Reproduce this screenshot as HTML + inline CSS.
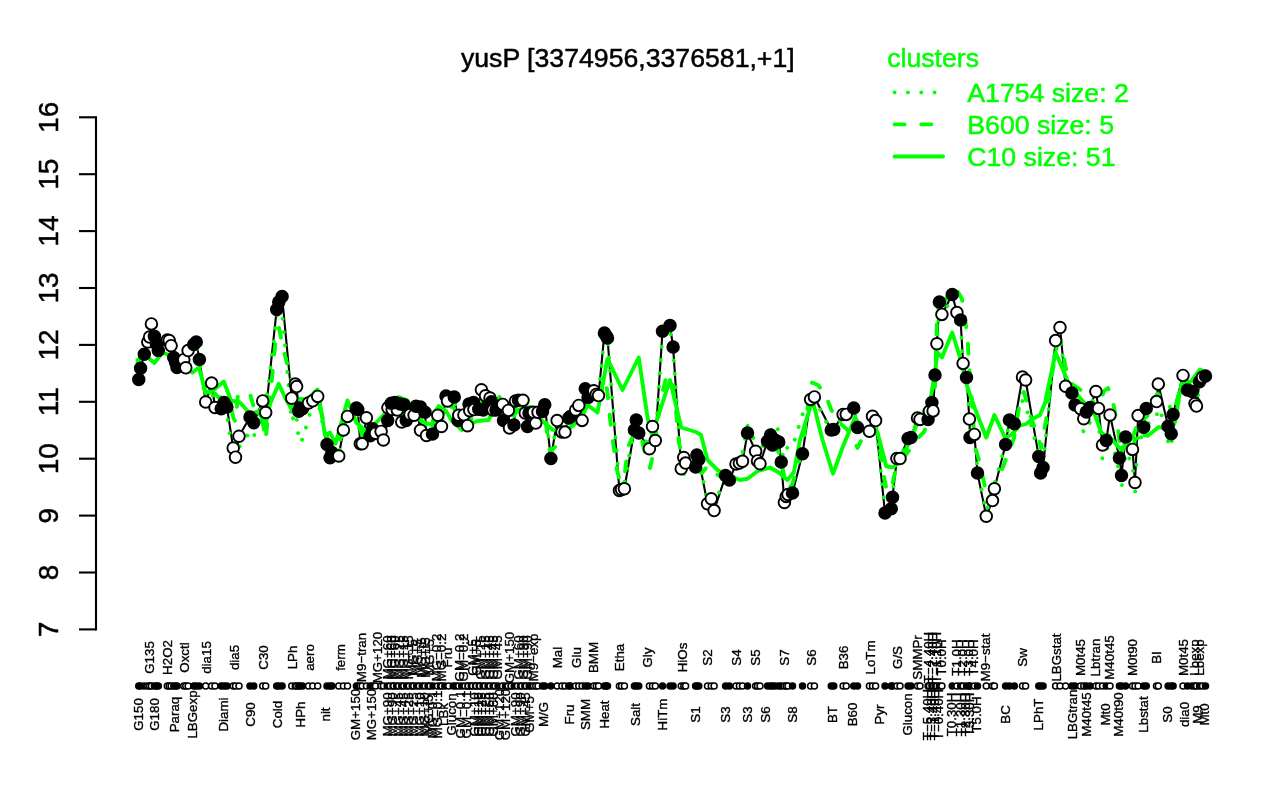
<!DOCTYPE html>
<html lang="en"><head><meta charset="utf-8"><title>yusP expression profile</title>
<style>html,body{margin:0;padding:0;background:#fff}svg{display:block}text{font-family:"Liberation Sans",Arial,Helvetica,sans-serif;fill:#000}.lab{font-size:13.33px;stroke:#000;stroke-width:0.35px}.big{font-size:26.67px;stroke:#000;stroke-width:0.5px}.big.g{fill:#00ff00;stroke:#00ff00}.p1{fill:#000;stroke:#000;stroke-width:1.9}.p0{fill:#fff;stroke:#000;stroke-width:1.9}.s1{fill:#000;stroke:#000;stroke-width:1.5}.s0{fill:#fff;stroke:#000;stroke-width:1.5}.gl{fill:none;stroke:#00ff00;stroke-width:3.9;stroke-linecap:round;stroke-linejoin:round}</style></head><body>
<svg width="1280" height="800" viewBox="0 0 1280 800">
<rect width="1280" height="800" fill="#fff"/>
<text class="big" x="627.8" y="67" text-anchor="middle">yusP [3374956,3376581,+1]</text>
<g stroke="#000" stroke-width="2.1" fill="none" stroke-linecap="butt">
<path d="M96 116.25 V630.45"/>
<path d="M79 629.4 H96"/>
<path d="M79 572.5 H96"/>
<path d="M79 515.6 H96"/>
<path d="M79 458.7 H96"/>
<path d="M79 401.8 H96"/>
<path d="M79 344.9 H96"/>
<path d="M79 288 H96"/>
<path d="M79 231.1 H96"/>
<path d="M79 174.2 H96"/>
<path d="M79 117.3 H96"/>
</g>
<text class="big" style="font-size:28px" text-anchor="middle" transform="translate(58 629.4) rotate(-90)">7</text>
<text class="big" style="font-size:28px" text-anchor="middle" transform="translate(58 572.5) rotate(-90)">8</text>
<text class="big" style="font-size:28px" text-anchor="middle" transform="translate(58 515.6) rotate(-90)">9</text>
<text class="big" style="font-size:28px" text-anchor="middle" transform="translate(58 458.7) rotate(-90)">10</text>
<text class="big" style="font-size:28px" text-anchor="middle" transform="translate(58 401.8) rotate(-90)">11</text>
<text class="big" style="font-size:28px" text-anchor="middle" transform="translate(58 344.9) rotate(-90)">12</text>
<text class="big" style="font-size:28px" text-anchor="middle" transform="translate(58 288) rotate(-90)">13</text>
<text class="big" style="font-size:28px" text-anchor="middle" transform="translate(58 231.1) rotate(-90)">14</text>
<text class="big" style="font-size:28px" text-anchor="middle" transform="translate(58 174.2) rotate(-90)">15</text>
<text class="big" style="font-size:28px" text-anchor="middle" transform="translate(58 117.3) rotate(-90)">16</text>
<text class="big g" x="887.2" y="67">clusters</text>
<path class="gl" d="M894.6 92.4 H943" stroke-dasharray="0.01 13.32"/>
<path class="gl" d="M894.6 124.4 H943" stroke-dasharray="10 16.66"/>
<path class="gl" d="M894.6 156.5 H943"/>
<text class="big g" x="967.3" y="101.7">A1754 size: 2</text>
<text class="big g" x="967.3" y="133.7">B600 size: 5</text>
<text class="big g" x="967.3" y="165.7">C10 size: 51</text>
<path d="M138.75 379.5 L140.6 368.3 L144.3 354.3 L147.8 342 L149.6 337 L151.4 323.9 L154.4 336.3 L156.5 344 L158.3 350.5 L167.3 340 L169.2 340.5 L171.1 345.7 L173.75 357.5 L175.5 362 L177 367.5 L183.75 359.7 L185.8 367.8 L188.1 350.6 L193.75 344.4 L196.25 341.9 L199.4 359.4 L205.7 402 L211.6 383.1 L215 407.5 L221.25 408.75 L224.1 402.5 L226.9 406.9 L233.2 448 L235.5 457.2 L239 436.25 L250 417 L253.75 422.8 L262.7 400.9 L265.7 412.5 L276.7 309.4 L278.75 302 L282.1 296.5 L291.7 398.2 L295.3 384 L296.6 386.6 L298.75 411.25 L300 408 L302.5 408.75 L308.5 403 L312.8 400.8 L317.7 396.4 L327 444.4 L330 457.8 L331.9 452.5 L338.75 456 L343.4 430 L347.5 416.4 L356.4 407.9 L357.8 409.5 L360.3 443.75 L362.2 443.75 L366.4 417.8 L370.2 435.8 L372.5 428.75 L375.5 433.25 L381.1 431.4 L383.4 440 L387.7 420.5 L387.9 407.75 L391.25 403.25 L392.2 409.5 L395 402.5 L397.3 410 L400.25 404 L401.75 422 L404 404.75 L406.25 420.5 L410 414.5 L414.1 415.25 L416 406.25 L420.5 430.25 L420.5 407 L425 412.25 L426.5 435.5 L432.5 434 L437.75 415.25 L441.5 426.5 L446 396.1 L447.5 401 L454.25 396.9 L458 420.5 L458.75 415.25 L463.9 414.9 L467.5 425.7 L469 404 L469.75 410.75 L473.5 402.5 L473.9 409.6 L478.75 409.25 L481.4 389.75 L483.25 410 L485.5 395.75 L490 398 L491.5 401.75 L493 410 L496 410 L502.75 404.4 L503.5 420.5 L508.4 410.4 L509.5 428 L514 425 L515.5 401 L518.5 400.25 L523 400.25 L525.25 413 L527.5 426.5 L529 413 L533.5 412.25 L535.75 423.1 L538 412.25 L542.5 411.5 L544.75 404.75 L550.9 458.5 L557.1 420.6 L561.9 431.9 L565 432.1 L568.75 418.1 L570.5 416.5 L575.6 410 L578.75 405.4 L582.1 420.4 L585.3 388.75 L588.1 397.5 L593.75 390.8 L596.25 394.4 L598.5 395.6 L604.4 333.1 L606 335.5 L607.5 338.1 L619.4 490.6 L621.5 489.5 L624.4 488.75 L634.4 430 L636.25 420 L638.75 433.1 L649.4 448.75 L652.5 426.5 L655.3 440.5 L662.5 331.25 L670 325.6 L673.1 346.9 L681.25 468.75 L683.75 457.5 L685.6 463.1 L695.6 466.9 L696.9 455 L698.75 459.4 L707.5 503.75 L711.25 498.75 L714.1 510.6 L725.6 475.6 L729.4 480 L736 464 L739.4 463.1 L742.5 461.25 L747.5 433.1 L755.6 451.25 L757.5 460.9 L760 463.75 L767.5 441.25 L770.6 435 L772.5 445 L775 440 L778.75 441.9 L781.25 461.9 L784.4 502.5 L786.25 496.4 L788 494.5 L792.5 493.1 L802.5 453.75 L810.6 399.4 L814.4 396.9 L831.25 430 L833.75 429.4 L843.1 414.4 L846.25 414.4 L853.75 408.1 L857.5 427.5 L869.4 431.25 L872.5 416.25 L875.6 420.6 L885 513.1 L891.25 508.75 L892.5 497.2 L896.9 458.5 L900 458.5 L908.1 438.4 L911 437.5 L917.5 418.1 L920 419.4 L928.1 419.4 L929.4 411.25 L931.9 402.5 L933.1 410.9 L935 375 L936.9 343.75 L939.4 301.9 L941.9 314.4 L952.25 294.4 L956.9 312.5 L960.6 320 L963.1 363.4 L966.5 377.5 L969.4 419.1 L970 437.5 L974.4 434.4 L977.5 473.1 L986.25 516.25 L992.5 500.6 L994.4 488.75 L1005.6 444.4 L1009.4 420 L1014.4 423.75 L1022.5 377 L1025.6 380 L1038.75 456.6 L1040.6 473.1 L1043.1 467.5 L1055.6 340.6 L1060 327.5 L1065.6 386.25 L1071.9 393.1 L1075 405 L1080.6 408.75 L1083.75 418.75 L1086.25 411.9 L1090 407.5 L1095.9 391.5 L1098.5 408.4 L1102.5 445 L1106.25 440.6 L1110 415 L1119.4 458.1 L1121.5 475.6 L1125.6 436.9 L1132.5 449.4 L1135 482.5 L1138.1 415.6 L1143.75 427.2 L1146.25 408.4 L1156.5 401.6 L1158.3 384.1 L1168.1 426.25 L1171.25 433.75 L1173.1 414.4 L1183 375.4 L1187.5 390 L1192 391.5 L1195 403.5 L1196.5 406.1 L1199.5 381.75 L1202.5 377.25 L1205.5 376.1" fill="none" stroke="#000" stroke-width="2.1" stroke-linejoin="round"/>
<path class="gl" d="M137.5 360 L145 355 L154.4 363 L162.5 352.5 L168.75 355 L173.75 363.75 L182.5 366.25 L192.5 372.5 L199 367.5 L205.5 392.5 L212.5 391 L223.75 381.5 L231 400.5 L240 402.5 L250 413.75 L257.5 411.5 L266 422.5 L270 404 L278.75 383.75 L285 397.5 L291.25 408.5 L297.5 398.75 L307.5 399.5 L317.5 389.5 L321.25 411.25 L325 435 L330 432.5 L335.5 443.75 L347.5 400.5 L356.25 422.5 L366.25 431.25 L376.25 422.5 L385 413.5 L398.75 397 L407.5 400.6 L414 412 L421 421 L432 425 L436 410 L438.75 406 L446 411 L452 421 L462 430 L470 424 L477.5 421 L488.75 420 L495 405 L499.4 397 L506 408 L513.75 416 L517.5 410 L524 408 L531 407 L538 417 L543.5 422 L552.5 429.5 L562 432 L572 426.5 L582.5 416 L587.5 405 L597.5 412.5 L607.5 358.75 L622.5 390 L638.75 357.5 L647.5 417.5 L652 435 L670 380 L681.25 427.5 L696 432 L701 435 L707.5 460 L717.5 470 L727.5 475 L740 480 L747.5 478.75 L757.5 471.25 L770 467.5 L778.75 472.5 L787.5 480 L793.75 472.5 L800 440 L812.5 400 L822.5 440 L833 473.75 L842.5 447.5 L855 417.5 L865 432.5 L871.25 435 L877.5 432.5 L886.25 466.25 L892.5 467.5 L900 462.5 L910 440 L920 417.5 L930 402.5 L935 372 L937.5 352.5 L941.9 357.5 L952.25 332.5 L960 357.5 L967.5 387.5 L975 408.75 L986.25 437.5 L994.4 415 L1005 437.5 L1011.25 435 L1019 426 L1026 424 L1032.5 419 L1040 415 L1045 403 L1055.6 352.5 L1066.25 377.5 L1070 388 L1077.5 395 L1095 415 L1101.25 432.5 L1112.5 440 L1120 448.75 L1125 446.25 L1132.5 437.5 L1136.25 428 L1147.5 436 L1158.75 427 L1162 428 L1168 430 L1172 428 L1175 422 L1178.75 398.75 L1181.5 384 L1191.25 381.25 L1200 369.4 L1205 372"/>
<path class="gl" d="M137.5 362 L143 356 L149 346 L155 352 L160 353 L168 351 L175 362 L183 364 L190 358 L196 356 L200 366 L206 396 L212 390 L218 397 L225 398 L230 404 L233.5 418 L235.5 422 L238 394 L250 394 L254 408 L259 416 L263 424 L265.5 440 L270 400 L275 346 L279 328 L284 352 L292 382 L297 392 L305 400 L315 393 L322 415 L328 440 L333 448 L340 440 L347 412 L356 412 L362 435 L368 430 L375 430 L383 428 L390 412 L398 402 L406 408 L414 414 L421 420 L430 428 L437 414 L446 404 L454 408 L460 422 L468 424 L476 412 L484 406 L492 404 L500 402 L508 414 L516 412 L524 406 L532 412 L540 416 L545 418 L550 452 L556 446 L562 440 L570 428 L580 415 L590 398 L598 400 L603 386 L606 381 L608.5 402 L611 428 L613.5 445 L617 470 L620 482 L625 472 L628 447 L632 438 L637 432 L642 440 L646 458 L650 468 L654 450 L658 420 L662.5 392 L666 378 L671 376 L675 400 L679 443 L682 455 L684 475 L690 473 L697 470 L702 473 L707.5 466 L712 472 L716 474 L720 476 L728 479 L737 470 L747 452 L755 455 L762 462 L770 448 L778 450 L783 470 L787 490 L792 485 L797 470 L803 445 L808 405 L812 382.5 L818 385 L825 394 L831 409 L835 418 L842 425 L850 432 L857.5 448 L862.5 438 L870 432 L876 428 L880 450 L884 477 L887 492 L892 485 L897 465 L903 458 L908 452 L912 446 L918 438 L924 432 L929 420 L933 405 L935 385 L937 318 L938.75 294 L943 305 L948 295 L953 287 L957 290 L962 299 L967.5 336 L969 365 L971 388 L975 447 L979 460 L985 487 L988 497 L993 490 L1000 475 L1007.5 455 L1014 438 L1021 395 L1024 392 L1030 415 L1037.5 435 L1041 448 L1046 420 L1051 380 L1057.5 342.5 L1062.5 345 L1065 365 L1070 382.5 L1085 393 L1092 400 L1098 410 L1104 391 L1108 388 L1113 402 L1118 428 L1121 455 L1126 440 L1133 450 L1137 430 L1145 418 L1152 412 L1157 394 L1162 396 L1170 407 L1173 418 L1177 400 L1183 380 L1190 385 L1196 395 L1202 378 L1205 374" stroke-dasharray="10 16.66"/>
<path class="gl" d="M138.75 378.28 L140.6 367.68 L144.3 354.37 L147.8 342.92 L149.6 338.31 L151.4 326.09 L154.4 337.9 L156.5 344.98 L158.3 350.95 L167.3 340.87 L169.2 341.42 L171.1 346.5 L173.75 357.88 L175.5 362.13 L177 367.33 L183.75 360.14 L185.8 367.83 L188.1 351.75 L193.75 346.03 L196.25 343.56 L199.4 359.98 L205.7 403.39 L211.6 387.59 L215 411.56 L221.25 414.57 L224.1 409.61 L226.9 415.15 L233.2 456.49 L235.5 465.89 L239 447.34 L250 431.81 L253.75 437.19 L262.7 400.21 L265.7 405.58 L276.7 316.76 L278.75 312.27 L282.1 312.06 L291.7 421.62 L295.3 412.8 L296.6 416.87 L298.75 441.09 L300 438.46 L302.5 440.01 L308.5 418.23 L312.8 405.18 L317.7 399.47 L327 444.61 L330 456.28 L331.9 451.53 L338.75 454.56 L343.4 429.12 L347.5 415.45 L356.4 408.78 L357.8 410.36 L360.3 442.69 L362.2 442.79 L366.4 418.6 L370.2 435.32 L372.5 428.57 L375.5 432.64 L381.1 430.57 L383.4 438.51 L387.7 419.89 L387.9 407.89 L391.25 403.42 L392.2 409.22 L395 402.44 L397.3 409.32 L400.25 403.62 L401.75 420.57 L404 404.41 L406.25 419.28 L410 413.93 L414.1 415.06 L416 406.75 L420.5 429.66 L420.5 407.8 L425 412.86 L426.5 434.75 L432.5 433.35 L437.75 414.78 L441.5 425.38 L446 396.99 L447.5 401.75 L454.25 398.47 L458 420.85 L458.75 415.96 L463.9 415.72 L467.5 425.71 L469 405.25 L469.75 411.56 L473.5 403.71 L473.9 410.37 L478.75 409.95 L481.4 391.6 L483.25 410.63 L485.5 397.22 L490 399.14 L491.5 402.45 L493 409.99 L496 409.59 L502.75 404.29 L503.5 419.5 L508.4 410.4 L509.5 427.02 L514 424.44 L515.5 401.73 L518.5 400.82 L523 400.73 L525.25 412.69 L527.5 425.36 L529 412.66 L533.5 412.15 L535.75 422.54 L538 412.54 L542.5 412.08 L544.75 405.85 L550.9 456.68 L557.1 421.21 L561.9 431.9 L565 432 L568.75 418.71 L570.5 417.15 L575.6 410.77 L578.75 406.26 L582.1 420.16 L585.3 390.02 L588.1 397.98 L593.75 391.93 L596.25 395.43 L598.5 396.29 L604.4 335.64 L606 337.38 L607.5 339.34 L619.4 484.18 L621.5 483.4 L624.4 482.6 L634.4 426.17 L636.25 416.55 L638.75 428.56 L649.4 447.32 L652.5 426.92 L655.3 439.56 L662.5 335.55 L670 328.86 L673.1 349.67 L681.25 466.27 L683.75 455.75 L685.6 461.04 L695.6 464.8 L696.9 453.65 L698.75 457.85 L707.5 501.12 L711.25 496.65 L714.1 507.96 L725.6 472.01 L729.4 473.87 L736 454.86 L739.4 454.1 L742.5 452.35 L747.5 425.84 L755.6 442.54 L757.5 451.52 L760 454.15 L767.5 432.09 L770.6 425.22 L772.5 434.09 L775 428.7 L778.75 429.44 L781.25 446.06 L784.4 464.23 L786.25 448.44 L788 447.26 L792.5 447.2 L802.5 414.44 L810.6 394.2 L814.4 397.54 L831.25 432.29 L833.75 431.94 L843.1 416.3 L846.25 415.85 L853.75 408.84 L857.5 427.12 L869.4 431.43 L872.5 417.35 L875.6 421.36 L885 510 L891.25 506.26 L892.5 495.42 L896.9 458.86 L900 458.74 L908.1 438.75 L911 437.51 L917.5 418.4 L920 419.29 L928.1 418.56 L929.4 410.78 L931.9 401.8 L933.1 409.26 L935 374.82 L936.9 344.56 L939.4 305.07 L941.9 316.99 L952.25 296.69 L956.9 314.6 L960.6 322.39 L963.1 363.79 L966.5 377.86 L969.4 417.53 L970 434.93 L974.4 432.76 L977.5 469.62 L986.25 511.52 L992.5 495.78 L994.4 484.32 L1005.6 443.97 L1009.4 420.94 L1014.4 424.21 L1022.5 400.71 L1025.6 404.79 L1038.75 454.14 L1040.6 469.53 L1043.1 463.9 L1055.6 341.31 L1060 329.62 L1065.6 385.63 L1071.9 392.9 L1075 404.26 L1080.6 420.14 L1083.75 432.75 L1086.25 426.49 L1090 422.61 L1095.9 408.06 L1098.5 424.38 L1102.5 459.3 L1106.25 455.31 L1110 431.4 L1119.4 472.5 L1121.5 488.94 L1125.6 452.42 L1132.5 463.69 L1135 494.42 L1138.1 431.42 L1143.75 442.57 L1146.25 425 L1156.5 418.23 L1158.3 401.7 L1168.1 441.47 L1171.25 447.47 L1173.1 427.7 L1183 380.89 L1187.5 394.13 L1192 395.01 L1195 405.77 L1196.5 407.96 L1199.5 384.55 L1202.5 380.08 L1205.5 378.85" stroke-dasharray="0.01 13.32"/>
<circle class="p1" cx="138.75" cy="379.5" r="5.8"/>
<circle class="p1" cx="140.6" cy="368.3" r="5.8"/>
<circle class="p1" cx="144.3" cy="354.3" r="5.8"/>
<circle class="p0" cx="147.8" cy="342" r="5.8"/>
<circle class="p0" cx="149.6" cy="337" r="5.8"/>
<circle class="p0" cx="151.4" cy="323.9" r="5.8"/>
<circle class="p1" cx="154.4" cy="336.3" r="5.8"/>
<circle class="p1" cx="156.5" cy="344" r="5.8"/>
<circle class="p1" cx="158.3" cy="350.5" r="5.8"/>
<circle class="p0" cx="167.3" cy="340" r="5.8"/>
<circle class="p0" cx="169.2" cy="340.5" r="5.8"/>
<circle class="p0" cx="171.1" cy="345.7" r="5.8"/>
<circle class="p1" cx="173.75" cy="357.5" r="5.8"/>
<circle class="p1" cx="175.5" cy="362" r="5.8"/>
<circle class="p1" cx="177" cy="367.5" r="5.8"/>
<circle class="p0" cx="183.75" cy="359.7" r="5.8"/>
<circle class="p0" cx="185.8" cy="367.8" r="5.8"/>
<circle class="p0" cx="188.1" cy="350.6" r="5.8"/>
<circle class="p1" cx="193.75" cy="344.4" r="5.8"/>
<circle class="p1" cx="196.25" cy="341.9" r="5.8"/>
<circle class="p1" cx="199.4" cy="359.4" r="5.8"/>
<circle class="p0" cx="205.7" cy="402" r="5.8"/>
<circle class="p0" cx="211.6" cy="383.1" r="5.8"/>
<circle class="p0" cx="215" cy="407.5" r="5.8"/>
<circle class="p1" cx="221.25" cy="408.75" r="5.8"/>
<circle class="p1" cx="224.1" cy="402.5" r="5.8"/>
<circle class="p1" cx="226.9" cy="406.9" r="5.8"/>
<circle class="p0" cx="233.2" cy="448" r="5.8"/>
<circle class="p0" cx="235.5" cy="457.2" r="5.8"/>
<circle class="p0" cx="239" cy="436.25" r="5.8"/>
<circle class="p1" cx="250" cy="417" r="5.8"/>
<circle class="p1" cx="253.75" cy="422.8" r="5.8"/>
<circle class="p0" cx="262.7" cy="400.9" r="5.8"/>
<circle class="p0" cx="265.7" cy="412.5" r="5.8"/>
<circle class="p1" cx="276.7" cy="309.4" r="5.8"/>
<circle class="p1" cx="278.75" cy="302" r="5.8"/>
<circle class="p1" cx="282.1" cy="296.5" r="5.8"/>
<circle class="p0" cx="291.7" cy="398.2" r="5.8"/>
<circle class="p0" cx="295.3" cy="384" r="5.8"/>
<circle class="p0" cx="296.6" cy="386.6" r="5.8"/>
<circle class="p1" cx="298.75" cy="411.25" r="5.8"/>
<circle class="p1" cx="300" cy="408" r="5.8"/>
<circle class="p1" cx="302.5" cy="408.75" r="5.8"/>
<circle class="p0" cx="308.5" cy="403" r="5.8"/>
<circle class="p0" cx="312.8" cy="400.8" r="5.8"/>
<circle class="p0" cx="317.7" cy="396.4" r="5.8"/>
<circle class="p1" cx="327" cy="444.4" r="5.8"/>
<circle class="p1" cx="330" cy="457.8" r="5.8"/>
<circle class="p1" cx="331.9" cy="452.5" r="5.8"/>
<circle class="p0" cx="338.75" cy="456" r="5.8"/>
<circle class="p0" cx="343.4" cy="430" r="5.8"/>
<circle class="p0" cx="347.5" cy="416.4" r="5.8"/>
<circle class="p1" cx="356.4" cy="407.9" r="5.8"/>
<circle class="p1" cx="357.8" cy="409.5" r="5.8"/>
<circle class="p0" cx="360.3" cy="443.75" r="5.8"/>
<circle class="p0" cx="362.2" cy="443.75" r="5.8"/>
<circle class="p0" cx="366.4" cy="417.8" r="5.8"/>
<circle class="p1" cx="370.2" cy="435.8" r="5.8"/>
<circle class="p1" cx="372.5" cy="428.75" r="5.8"/>
<circle class="p0" cx="375.5" cy="433.25" r="5.8"/>
<circle class="p0" cx="381.1" cy="431.4" r="5.8"/>
<circle class="p0" cx="383.4" cy="440" r="5.8"/>
<circle class="p1" cx="387.7" cy="420.5" r="5.8"/>
<circle class="p0" cx="387.9" cy="407.75" r="5.8"/>
<circle class="p0" cx="392.2" cy="409.5" r="5.8"/>
<circle class="p0" cx="397.3" cy="410" r="5.8"/>
<circle class="p1" cx="391.25" cy="403.25" r="5.8"/>
<circle class="p1" cx="395" cy="402.5" r="5.8"/>
<circle class="p1" cx="400.25" cy="404" r="5.8"/>
<circle class="p0" cx="401.75" cy="422" r="5.8"/>
<circle class="p1" cx="404" cy="404.75" r="5.8"/>
<circle class="p1" cx="406.25" cy="420.5" r="5.8"/>
<circle class="p0" cx="410" cy="414.5" r="5.8"/>
<circle class="p0" cx="414.1" cy="415.25" r="5.8"/>
<circle class="p1" cx="416" cy="406.25" r="5.8"/>
<circle class="p0" cx="420.5" cy="430.25" r="5.8"/>
<circle class="p1" cx="420.5" cy="407" r="5.8"/>
<circle class="p1" cx="425" cy="412.25" r="5.8"/>
<circle class="p0" cx="426.5" cy="435.5" r="5.8"/>
<circle class="p1" cx="432.5" cy="434" r="5.8"/>
<circle class="p0" cx="437.75" cy="415.25" r="5.8"/>
<circle class="p0" cx="441.5" cy="426.5" r="5.8"/>
<circle class="p1" cx="446" cy="396.1" r="5.8"/>
<circle class="p0" cx="447.5" cy="401" r="5.8"/>
<circle class="p1" cx="454.25" cy="396.9" r="5.8"/>
<circle class="p1" cx="458" cy="420.5" r="5.8"/>
<circle class="p0" cx="458.75" cy="415.25" r="5.8"/>
<circle class="p0" cx="463.9" cy="414.9" r="5.8"/>
<circle class="p0" cx="467.5" cy="425.7" r="5.8"/>
<circle class="p1" cx="469" cy="404" r="5.8"/>
<circle class="p0" cx="469.75" cy="410.75" r="5.8"/>
<circle class="p1" cx="473.5" cy="402.5" r="5.8"/>
<circle class="p0" cx="473.9" cy="409.6" r="5.8"/>
<circle class="p1" cx="478.75" cy="409.25" r="5.8"/>
<circle class="p0" cx="481.4" cy="389.75" r="5.8"/>
<circle class="p1" cx="483.25" cy="410" r="5.8"/>
<circle class="p0" cx="485.5" cy="395.75" r="5.8"/>
<circle class="p0" cx="490" cy="398" r="5.8"/>
<circle class="p1" cx="491.5" cy="401.75" r="5.8"/>
<circle class="p0" cx="493" cy="410" r="5.8"/>
<circle class="p1" cx="496" cy="410" r="5.8"/>
<circle class="p0" cx="502.75" cy="404.4" r="5.8"/>
<circle class="p1" cx="503.5" cy="420.5" r="5.8"/>
<circle class="p0" cx="508.4" cy="410.4" r="5.8"/>
<circle class="p0" cx="509.5" cy="428" r="5.8"/>
<circle class="p1" cx="514" cy="425" r="5.8"/>
<circle class="p0" cx="515.5" cy="401" r="5.8"/>
<circle class="p1" cx="518.5" cy="400.25" r="5.8"/>
<circle class="p0" cx="523" cy="400.25" r="5.8"/>
<circle class="p0" cx="525.25" cy="413" r="5.8"/>
<circle class="p1" cx="527.5" cy="426.5" r="5.8"/>
<circle class="p1" cx="529" cy="413" r="5.8"/>
<circle class="p0" cx="533.5" cy="412.25" r="5.8"/>
<circle class="p0" cx="535.75" cy="423.1" r="5.8"/>
<circle class="p0" cx="538" cy="412.25" r="5.8"/>
<circle class="p1" cx="542.5" cy="411.5" r="5.8"/>
<circle class="p1" cx="544.75" cy="404.75" r="5.8"/>
<circle class="p1" cx="550.9" cy="458.5" r="5.8"/>
<circle class="p0" cx="557.1" cy="420.6" r="5.8"/>
<circle class="p0" cx="561.9" cy="431.9" r="5.8"/>
<circle class="p0" cx="565" cy="432.1" r="5.8"/>
<circle class="p1" cx="568.75" cy="418.1" r="5.8"/>
<circle class="p1" cx="570.5" cy="416.5" r="5.8"/>
<circle class="p0" cx="575.6" cy="410" r="5.8"/>
<circle class="p0" cx="578.75" cy="405.4" r="5.8"/>
<circle class="p0" cx="582.1" cy="420.4" r="5.8"/>
<circle class="p1" cx="585.3" cy="388.75" r="5.8"/>
<circle class="p1" cx="588.1" cy="397.5" r="5.8"/>
<circle class="p0" cx="593.75" cy="390.8" r="5.8"/>
<circle class="p0" cx="596.25" cy="394.4" r="5.8"/>
<circle class="p0" cx="598.5" cy="395.6" r="5.8"/>
<circle class="p1" cx="604.4" cy="333.1" r="5.8"/>
<circle class="p1" cx="606" cy="335.5" r="5.8"/>
<circle class="p1" cx="607.5" cy="338.1" r="5.8"/>
<circle class="p0" cx="619.4" cy="490.6" r="5.8"/>
<circle class="p0" cx="621.5" cy="489.5" r="5.8"/>
<circle class="p0" cx="624.4" cy="488.75" r="5.8"/>
<circle class="p1" cx="634.4" cy="430" r="5.8"/>
<circle class="p1" cx="636.25" cy="420" r="5.8"/>
<circle class="p1" cx="638.75" cy="433.1" r="5.8"/>
<circle class="p0" cx="649.4" cy="448.75" r="5.8"/>
<circle class="p0" cx="652.5" cy="426.5" r="5.8"/>
<circle class="p0" cx="655.3" cy="440.5" r="5.8"/>
<circle class="p1" cx="662.5" cy="331.25" r="5.8"/>
<circle class="p1" cx="670" cy="325.6" r="5.8"/>
<circle class="p1" cx="673.1" cy="346.9" r="5.8"/>
<circle class="p0" cx="681.25" cy="468.75" r="5.8"/>
<circle class="p0" cx="683.75" cy="457.5" r="5.8"/>
<circle class="p0" cx="685.6" cy="463.1" r="5.8"/>
<circle class="p1" cx="695.6" cy="466.9" r="5.8"/>
<circle class="p1" cx="696.9" cy="455" r="5.8"/>
<circle class="p1" cx="698.75" cy="459.4" r="5.8"/>
<circle class="p0" cx="707.5" cy="503.75" r="5.8"/>
<circle class="p0" cx="711.25" cy="498.75" r="5.8"/>
<circle class="p0" cx="714.1" cy="510.6" r="5.8"/>
<circle class="p1" cx="725.6" cy="475.6" r="5.8"/>
<circle class="p1" cx="729.4" cy="480" r="5.8"/>
<circle class="p0" cx="736" cy="464" r="5.8"/>
<circle class="p0" cx="739.4" cy="463.1" r="5.8"/>
<circle class="p0" cx="742.5" cy="461.25" r="5.8"/>
<circle class="p1" cx="747.5" cy="433.1" r="5.8"/>
<circle class="p0" cx="755.6" cy="451.25" r="5.8"/>
<circle class="p0" cx="757.5" cy="460.9" r="5.8"/>
<circle class="p0" cx="760" cy="463.75" r="5.8"/>
<circle class="p1" cx="767.5" cy="441.25" r="5.8"/>
<circle class="p1" cx="770.6" cy="435" r="5.8"/>
<circle class="p1" cx="772.5" cy="445" r="5.8"/>
<circle class="p1" cx="775" cy="440" r="5.8"/>
<circle class="p1" cx="778.75" cy="441.9" r="5.8"/>
<circle class="p1" cx="781.25" cy="461.9" r="5.8"/>
<circle class="p0" cx="784.4" cy="502.5" r="5.8"/>
<circle class="p0" cx="786.25" cy="496.4" r="5.8"/>
<circle class="p0" cx="788" cy="494.5" r="5.8"/>
<circle class="p1" cx="792.5" cy="493.1" r="5.8"/>
<circle class="p1" cx="802.5" cy="453.75" r="5.8"/>
<circle class="p0" cx="810.6" cy="399.4" r="5.8"/>
<circle class="p0" cx="814.4" cy="396.9" r="5.8"/>
<circle class="p1" cx="831.25" cy="430" r="5.8"/>
<circle class="p1" cx="833.75" cy="429.4" r="5.8"/>
<circle class="p0" cx="843.1" cy="414.4" r="5.8"/>
<circle class="p0" cx="846.25" cy="414.4" r="5.8"/>
<circle class="p1" cx="853.75" cy="408.1" r="5.8"/>
<circle class="p1" cx="857.5" cy="427.5" r="5.8"/>
<circle class="p0" cx="869.4" cy="431.25" r="5.8"/>
<circle class="p0" cx="872.5" cy="416.25" r="5.8"/>
<circle class="p0" cx="875.6" cy="420.6" r="5.8"/>
<circle class="p1" cx="885" cy="513.1" r="5.8"/>
<circle class="p1" cx="891.25" cy="508.75" r="5.8"/>
<circle class="p1" cx="892.5" cy="497.2" r="5.8"/>
<circle class="p0" cx="896.9" cy="458.5" r="5.8"/>
<circle class="p0" cx="900" cy="458.5" r="5.8"/>
<circle class="p1" cx="908.1" cy="438.4" r="5.8"/>
<circle class="p1" cx="911" cy="437.5" r="5.8"/>
<circle class="p0" cx="917.5" cy="418.1" r="5.8"/>
<circle class="p0" cx="920" cy="419.4" r="5.8"/>
<circle class="p1" cx="928.1" cy="419.4" r="5.8"/>
<circle class="p0" cx="929.4" cy="411.25" r="5.8"/>
<circle class="p1" cx="931.9" cy="402.5" r="5.8"/>
<circle class="p0" cx="933.1" cy="410.9" r="5.8"/>
<circle class="p1" cx="935" cy="375" r="5.8"/>
<circle class="p0" cx="936.9" cy="343.75" r="5.8"/>
<circle class="p1" cx="939.4" cy="301.9" r="5.8"/>
<circle class="p0" cx="941.9" cy="314.4" r="5.8"/>
<circle class="p1" cx="952.25" cy="294.4" r="5.8"/>
<circle class="p0" cx="956.9" cy="312.5" r="5.8"/>
<circle class="p1" cx="960.6" cy="320" r="5.8"/>
<circle class="p0" cx="963.1" cy="363.4" r="5.8"/>
<circle class="p1" cx="966.5" cy="377.5" r="5.8"/>
<circle class="p0" cx="969.4" cy="419.1" r="5.8"/>
<circle class="p1" cx="970" cy="437.5" r="5.8"/>
<circle class="p0" cx="974.4" cy="434.4" r="5.8"/>
<circle class="p1" cx="977.5" cy="473.1" r="5.8"/>
<circle class="p0" cx="986.25" cy="516.25" r="5.8"/>
<circle class="p0" cx="992.5" cy="500.6" r="5.8"/>
<circle class="p0" cx="994.4" cy="488.75" r="5.8"/>
<circle class="p1" cx="1005.6" cy="444.4" r="5.8"/>
<circle class="p1" cx="1009.4" cy="420" r="5.8"/>
<circle class="p1" cx="1014.4" cy="423.75" r="5.8"/>
<circle class="p0" cx="1022.5" cy="377" r="5.8"/>
<circle class="p0" cx="1025.6" cy="380" r="5.8"/>
<circle class="p1" cx="1038.75" cy="456.6" r="5.8"/>
<circle class="p1" cx="1040.6" cy="473.1" r="5.8"/>
<circle class="p1" cx="1043.1" cy="467.5" r="5.8"/>
<circle class="p0" cx="1055.6" cy="340.6" r="5.8"/>
<circle class="p0" cx="1060" cy="327.5" r="5.8"/>
<circle class="p0" cx="1065.6" cy="386.25" r="5.8"/>
<circle class="p1" cx="1071.9" cy="393.1" r="5.8"/>
<circle class="p1" cx="1075" cy="405" r="5.8"/>
<circle class="p0" cx="1080.6" cy="408.75" r="5.8"/>
<circle class="p0" cx="1083.75" cy="418.75" r="5.8"/>
<circle class="p1" cx="1086.25" cy="411.9" r="5.8"/>
<circle class="p1" cx="1090" cy="407.5" r="5.8"/>
<circle class="p0" cx="1095.9" cy="391.5" r="5.8"/>
<circle class="p0" cx="1098.5" cy="408.4" r="5.8"/>
<circle class="p0" cx="1102.5" cy="445" r="5.8"/>
<circle class="p1" cx="1106.25" cy="440.6" r="5.8"/>
<circle class="p0" cx="1110" cy="415" r="5.8"/>
<circle class="p1" cx="1119.4" cy="458.1" r="5.8"/>
<circle class="p1" cx="1121.5" cy="475.6" r="5.8"/>
<circle class="p1" cx="1125.6" cy="436.9" r="5.8"/>
<circle class="p0" cx="1132.5" cy="449.4" r="5.8"/>
<circle class="p0" cx="1135" cy="482.5" r="5.8"/>
<circle class="p0" cx="1138.1" cy="415.6" r="5.8"/>
<circle class="p1" cx="1143.75" cy="427.2" r="5.8"/>
<circle class="p1" cx="1146.25" cy="408.4" r="5.8"/>
<circle class="p0" cx="1156.5" cy="401.6" r="5.8"/>
<circle class="p0" cx="1158.3" cy="384.1" r="5.8"/>
<circle class="p1" cx="1168.1" cy="426.25" r="5.8"/>
<circle class="p1" cx="1171.25" cy="433.75" r="5.8"/>
<circle class="p1" cx="1173.1" cy="414.4" r="5.8"/>
<circle class="p0" cx="1183" cy="375.4" r="5.8"/>
<circle class="p1" cx="1187.5" cy="390" r="5.8"/>
<circle class="p1" cx="1192" cy="391.5" r="5.8"/>
<circle class="p0" cx="1195" cy="403.5" r="5.8"/>
<circle class="p0" cx="1196.5" cy="406.1" r="5.8"/>
<circle class="p1" cx="1199.5" cy="381.75" r="5.8"/>
<circle class="p0" cx="1202.5" cy="377.25" r="5.8"/>
<circle class="p1" cx="1205.5" cy="376.1" r="5.8"/>
<circle class="s1" cx="138.75" cy="686.1" r="3.0"/>
<circle class="s1" cx="140.6" cy="686.1" r="3.0"/>
<circle class="s1" cx="144.3" cy="686.1" r="3.0"/>
<circle class="s0" cx="147.8" cy="686.1" r="3.0"/>
<circle class="s0" cx="149.6" cy="686.1" r="3.0"/>
<circle class="s0" cx="151.4" cy="686.1" r="3.0"/>
<circle class="s1" cx="154.4" cy="686.1" r="3.0"/>
<circle class="s1" cx="156.5" cy="686.1" r="3.0"/>
<circle class="s1" cx="158.3" cy="686.1" r="3.0"/>
<circle class="s0" cx="167.3" cy="686.1" r="3.0"/>
<circle class="s0" cx="169.2" cy="686.1" r="3.0"/>
<circle class="s0" cx="171.1" cy="686.1" r="3.0"/>
<circle class="s1" cx="173.75" cy="686.1" r="3.0"/>
<circle class="s1" cx="175.5" cy="686.1" r="3.0"/>
<circle class="s1" cx="177" cy="686.1" r="3.0"/>
<circle class="s0" cx="183.75" cy="686.1" r="3.0"/>
<circle class="s0" cx="185.8" cy="686.1" r="3.0"/>
<circle class="s0" cx="188.1" cy="686.1" r="3.0"/>
<circle class="s1" cx="193.75" cy="686.1" r="3.0"/>
<circle class="s1" cx="196.25" cy="686.1" r="3.0"/>
<circle class="s1" cx="199.4" cy="686.1" r="3.0"/>
<circle class="s0" cx="205.7" cy="686.1" r="3.0"/>
<circle class="s0" cx="211.6" cy="686.1" r="3.0"/>
<circle class="s0" cx="215" cy="686.1" r="3.0"/>
<circle class="s1" cx="221.25" cy="686.1" r="3.0"/>
<circle class="s1" cx="224.1" cy="686.1" r="3.0"/>
<circle class="s1" cx="226.9" cy="686.1" r="3.0"/>
<circle class="s0" cx="233.2" cy="686.1" r="3.0"/>
<circle class="s0" cx="235.5" cy="686.1" r="3.0"/>
<circle class="s0" cx="239" cy="686.1" r="3.0"/>
<circle class="s1" cx="250" cy="686.1" r="3.0"/>
<circle class="s1" cx="253.75" cy="686.1" r="3.0"/>
<circle class="s0" cx="262.7" cy="686.1" r="3.0"/>
<circle class="s0" cx="265.7" cy="686.1" r="3.0"/>
<circle class="s1" cx="276.7" cy="686.1" r="3.0"/>
<circle class="s1" cx="278.75" cy="686.1" r="3.0"/>
<circle class="s1" cx="282.1" cy="686.1" r="3.0"/>
<circle class="s0" cx="291.7" cy="686.1" r="3.0"/>
<circle class="s0" cx="295.3" cy="686.1" r="3.0"/>
<circle class="s0" cx="296.6" cy="686.1" r="3.0"/>
<circle class="s1" cx="298.75" cy="686.1" r="3.0"/>
<circle class="s1" cx="300" cy="686.1" r="3.0"/>
<circle class="s1" cx="302.5" cy="686.1" r="3.0"/>
<circle class="s0" cx="308.5" cy="686.1" r="3.0"/>
<circle class="s0" cx="312.8" cy="686.1" r="3.0"/>
<circle class="s0" cx="317.7" cy="686.1" r="3.0"/>
<circle class="s1" cx="327" cy="686.1" r="3.0"/>
<circle class="s1" cx="330" cy="686.1" r="3.0"/>
<circle class="s1" cx="331.9" cy="686.1" r="3.0"/>
<circle class="s0" cx="338.75" cy="686.1" r="3.0"/>
<circle class="s0" cx="343.4" cy="686.1" r="3.0"/>
<circle class="s0" cx="347.5" cy="686.1" r="3.0"/>
<circle class="s1" cx="356.4" cy="686.1" r="3.0"/>
<circle class="s1" cx="357.8" cy="686.1" r="3.0"/>
<circle class="s0" cx="360.3" cy="686.1" r="3.0"/>
<circle class="s0" cx="362.2" cy="686.1" r="3.0"/>
<circle class="s0" cx="366.4" cy="686.1" r="3.0"/>
<circle class="s1" cx="370.2" cy="686.1" r="3.0"/>
<circle class="s1" cx="372.5" cy="686.1" r="3.0"/>
<circle class="s0" cx="375.5" cy="686.1" r="3.0"/>
<circle class="s0" cx="381.1" cy="686.1" r="3.0"/>
<circle class="s0" cx="383.4" cy="686.1" r="3.0"/>
<circle class="s1" cx="387.2" cy="686.1" r="3.0"/>
<circle class="s0" cx="390" cy="686.1" r="3.0"/>
<circle class="s1" cx="393" cy="686.1" r="3.0"/>
<circle class="s0" cx="393.7" cy="686.1" r="3.0"/>
<circle class="s1" cx="396.7" cy="686.1" r="3.0"/>
<circle class="s0" cx="398.7" cy="686.1" r="3.0"/>
<circle class="s1" cx="401.7" cy="686.1" r="3.0"/>
<circle class="s0" cx="403.7" cy="686.1" r="3.0"/>
<circle class="s1" cx="406.7" cy="686.1" r="3.0"/>
<circle class="s0" cx="409.2" cy="686.1" r="3.0"/>
<circle class="s1" cx="412.2" cy="686.1" r="3.0"/>
<circle class="s0" cx="413.7" cy="686.1" r="3.0"/>
<circle class="s1" cx="416.7" cy="686.1" r="3.0"/>
<circle class="s0" cx="419.2" cy="686.1" r="3.0"/>
<circle class="s1" cx="422.2" cy="686.1" r="3.0"/>
<circle class="s0" cx="425" cy="686.1" r="3.0"/>
<circle class="s1" cx="428" cy="686.1" r="3.0"/>
<circle class="s0" cx="430" cy="686.1" r="3.0"/>
<circle class="s1" cx="433" cy="686.1" r="3.0"/>
<circle class="s0" cx="437.5" cy="686.1" r="3.0"/>
<circle class="s1" cx="440.5" cy="686.1" r="3.0"/>
<circle class="s0" cx="441.8" cy="686.1" r="3.0"/>
<circle class="s1" cx="444.8" cy="686.1" r="3.0"/>
<circle class="s0" cx="448.7" cy="686.1" r="3.0"/>
<circle class="s1" cx="453.2" cy="686.1" r="3.0"/>
<circle class="s1" cx="455.8" cy="686.1" r="3.0"/>
<circle class="s0" cx="458.7" cy="686.1" r="3.0"/>
<circle class="s1" cx="461.7" cy="686.1" r="3.0"/>
<circle class="s0" cx="465" cy="686.1" r="3.0"/>
<circle class="s1" cx="468" cy="686.1" r="3.0"/>
<circle class="s0" cx="468.2" cy="686.1" r="3.0"/>
<circle class="s1" cx="471.2" cy="686.1" r="3.0"/>
<circle class="s0" cx="472.5" cy="686.1" r="3.0"/>
<circle class="s1" cx="475.5" cy="686.1" r="3.0"/>
<circle class="s0" cx="476.2" cy="686.1" r="3.0"/>
<circle class="s1" cx="479.2" cy="686.1" r="3.0"/>
<circle class="s0" cx="480" cy="686.1" r="3.0"/>
<circle class="s1" cx="483" cy="686.1" r="3.0"/>
<circle class="s0" cx="485" cy="686.1" r="3.0"/>
<circle class="s1" cx="488" cy="686.1" r="3.0"/>
<circle class="s0" cx="490" cy="686.1" r="3.0"/>
<circle class="s1" cx="493" cy="686.1" r="3.0"/>
<circle class="s0" cx="495" cy="686.1" r="3.0"/>
<circle class="s1" cx="498" cy="686.1" r="3.0"/>
<circle class="s0" cx="502.5" cy="686.1" r="3.0"/>
<circle class="s1" cx="505.5" cy="686.1" r="3.0"/>
<circle class="s0" cx="508.1" cy="686.1" r="3.0"/>
<circle class="s1" cx="511.1" cy="686.1" r="3.0"/>
<circle class="s0" cx="511.2" cy="686.1" r="3.0"/>
<circle class="s1" cx="514.2" cy="686.1" r="3.0"/>
<circle class="s0" cx="517.5" cy="686.1" r="3.0"/>
<circle class="s1" cx="520.5" cy="686.1" r="3.0"/>
<circle class="s0" cx="521.8" cy="686.1" r="3.0"/>
<circle class="s1" cx="524.8" cy="686.1" r="3.0"/>
<circle class="s0" cx="526.2" cy="686.1" r="3.0"/>
<circle class="s1" cx="529.2" cy="686.1" r="3.0"/>
<circle class="s1" cx="530.5" cy="686.1" r="3.0"/>
<circle class="s0" cx="533.5" cy="686.1" r="3.0"/>
<circle class="s0" cx="535.75" cy="686.1" r="3.0"/>
<circle class="s0" cx="538" cy="686.1" r="3.0"/>
<circle class="s1" cx="542.5" cy="686.1" r="3.0"/>
<circle class="s1" cx="544.75" cy="686.1" r="3.0"/>
<circle class="s1" cx="550.9" cy="686.1" r="3.0"/>
<circle class="s0" cx="557.1" cy="686.1" r="3.0"/>
<circle class="s0" cx="561.9" cy="686.1" r="3.0"/>
<circle class="s0" cx="565" cy="686.1" r="3.0"/>
<circle class="s1" cx="568.75" cy="686.1" r="3.0"/>
<circle class="s1" cx="570.5" cy="686.1" r="3.0"/>
<circle class="s0" cx="575.6" cy="686.1" r="3.0"/>
<circle class="s0" cx="578.75" cy="686.1" r="3.0"/>
<circle class="s0" cx="582.1" cy="686.1" r="3.0"/>
<circle class="s1" cx="585.3" cy="686.1" r="3.0"/>
<circle class="s1" cx="588.1" cy="686.1" r="3.0"/>
<circle class="s0" cx="593.75" cy="686.1" r="3.0"/>
<circle class="s0" cx="596.25" cy="686.1" r="3.0"/>
<circle class="s0" cx="598.5" cy="686.1" r="3.0"/>
<circle class="s1" cx="604.4" cy="686.1" r="3.0"/>
<circle class="s1" cx="606" cy="686.1" r="3.0"/>
<circle class="s1" cx="607.5" cy="686.1" r="3.0"/>
<circle class="s0" cx="619.4" cy="686.1" r="3.0"/>
<circle class="s0" cx="621.5" cy="686.1" r="3.0"/>
<circle class="s0" cx="624.4" cy="686.1" r="3.0"/>
<circle class="s1" cx="634.4" cy="686.1" r="3.0"/>
<circle class="s1" cx="636.25" cy="686.1" r="3.0"/>
<circle class="s1" cx="638.75" cy="686.1" r="3.0"/>
<circle class="s0" cx="649.4" cy="686.1" r="3.0"/>
<circle class="s0" cx="652.5" cy="686.1" r="3.0"/>
<circle class="s0" cx="655.3" cy="686.1" r="3.0"/>
<circle class="s1" cx="662.5" cy="686.1" r="3.0"/>
<circle class="s1" cx="670" cy="686.1" r="3.0"/>
<circle class="s1" cx="673.1" cy="686.1" r="3.0"/>
<circle class="s0" cx="681.25" cy="686.1" r="3.0"/>
<circle class="s0" cx="683.75" cy="686.1" r="3.0"/>
<circle class="s0" cx="685.6" cy="686.1" r="3.0"/>
<circle class="s1" cx="695.6" cy="686.1" r="3.0"/>
<circle class="s1" cx="696.9" cy="686.1" r="3.0"/>
<circle class="s1" cx="698.75" cy="686.1" r="3.0"/>
<circle class="s0" cx="707.5" cy="686.1" r="3.0"/>
<circle class="s0" cx="711.25" cy="686.1" r="3.0"/>
<circle class="s0" cx="714.1" cy="686.1" r="3.0"/>
<circle class="s1" cx="725.6" cy="686.1" r="3.0"/>
<circle class="s1" cx="729.4" cy="686.1" r="3.0"/>
<circle class="s0" cx="736" cy="686.1" r="3.0"/>
<circle class="s0" cx="739.4" cy="686.1" r="3.0"/>
<circle class="s0" cx="742.5" cy="686.1" r="3.0"/>
<circle class="s1" cx="747.5" cy="686.1" r="3.0"/>
<circle class="s0" cx="755.6" cy="686.1" r="3.0"/>
<circle class="s0" cx="757.5" cy="686.1" r="3.0"/>
<circle class="s0" cx="760" cy="686.1" r="3.0"/>
<circle class="s1" cx="767.5" cy="686.1" r="3.0"/>
<circle class="s1" cx="770.6" cy="686.1" r="3.0"/>
<circle class="s1" cx="772.5" cy="686.1" r="3.0"/>
<circle class="s1" cx="775" cy="686.1" r="3.0"/>
<circle class="s1" cx="778.75" cy="686.1" r="3.0"/>
<circle class="s1" cx="781.25" cy="686.1" r="3.0"/>
<circle class="s0" cx="784.4" cy="686.1" r="3.0"/>
<circle class="s0" cx="786.25" cy="686.1" r="3.0"/>
<circle class="s0" cx="788" cy="686.1" r="3.0"/>
<circle class="s1" cx="792.5" cy="686.1" r="3.0"/>
<circle class="s1" cx="802.5" cy="686.1" r="3.0"/>
<circle class="s0" cx="810.6" cy="686.1" r="3.0"/>
<circle class="s0" cx="814.4" cy="686.1" r="3.0"/>
<circle class="s1" cx="831.25" cy="686.1" r="3.0"/>
<circle class="s1" cx="833.75" cy="686.1" r="3.0"/>
<circle class="s0" cx="843.1" cy="686.1" r="3.0"/>
<circle class="s0" cx="846.25" cy="686.1" r="3.0"/>
<circle class="s1" cx="853.75" cy="686.1" r="3.0"/>
<circle class="s1" cx="857.5" cy="686.1" r="3.0"/>
<circle class="s0" cx="869.4" cy="686.1" r="3.0"/>
<circle class="s0" cx="872.5" cy="686.1" r="3.0"/>
<circle class="s0" cx="875.6" cy="686.1" r="3.0"/>
<circle class="s1" cx="885" cy="686.1" r="3.0"/>
<circle class="s1" cx="891.25" cy="686.1" r="3.0"/>
<circle class="s1" cx="892.5" cy="686.1" r="3.0"/>
<circle class="s0" cx="896.9" cy="686.1" r="3.0"/>
<circle class="s0" cx="900" cy="686.1" r="3.0"/>
<circle class="s1" cx="908.1" cy="686.1" r="3.0"/>
<circle class="s1" cx="911" cy="686.1" r="3.0"/>
<circle class="s0" cx="917.5" cy="686.1" r="3.0"/>
<circle class="s0" cx="920" cy="686.1" r="3.0"/>
<circle class="s1" cx="928.1" cy="686.1" r="3.0"/>
<circle class="s0" cx="929.4" cy="686.1" r="3.0"/>
<circle class="s1" cx="931.9" cy="686.1" r="3.0"/>
<circle class="s0" cx="933.1" cy="686.1" r="3.0"/>
<circle class="s1" cx="935" cy="686.1" r="3.0"/>
<circle class="s0" cx="936.9" cy="686.1" r="3.0"/>
<circle class="s1" cx="939.4" cy="686.1" r="3.0"/>
<circle class="s0" cx="941.9" cy="686.1" r="3.0"/>
<circle class="s1" cx="952.25" cy="686.1" r="3.0"/>
<circle class="s0" cx="956.9" cy="686.1" r="3.0"/>
<circle class="s1" cx="960.6" cy="686.1" r="3.0"/>
<circle class="s0" cx="963.1" cy="686.1" r="3.0"/>
<circle class="s1" cx="966.5" cy="686.1" r="3.0"/>
<circle class="s0" cx="969.4" cy="686.1" r="3.0"/>
<circle class="s1" cx="970" cy="686.1" r="3.0"/>
<circle class="s0" cx="974.4" cy="686.1" r="3.0"/>
<circle class="s1" cx="977.5" cy="686.1" r="3.0"/>
<circle class="s0" cx="986.25" cy="686.1" r="3.0"/>
<circle class="s0" cx="992.5" cy="686.1" r="3.0"/>
<circle class="s0" cx="994.4" cy="686.1" r="3.0"/>
<circle class="s1" cx="1005.6" cy="686.1" r="3.0"/>
<circle class="s1" cx="1009.4" cy="686.1" r="3.0"/>
<circle class="s1" cx="1014.4" cy="686.1" r="3.0"/>
<circle class="s0" cx="1022.5" cy="686.1" r="3.0"/>
<circle class="s0" cx="1025.6" cy="686.1" r="3.0"/>
<circle class="s1" cx="1038.75" cy="686.1" r="3.0"/>
<circle class="s1" cx="1040.6" cy="686.1" r="3.0"/>
<circle class="s1" cx="1043.1" cy="686.1" r="3.0"/>
<circle class="s0" cx="1055.6" cy="686.1" r="3.0"/>
<circle class="s0" cx="1060" cy="686.1" r="3.0"/>
<circle class="s0" cx="1065.6" cy="686.1" r="3.0"/>
<circle class="s1" cx="1071.9" cy="686.1" r="3.0"/>
<circle class="s1" cx="1075" cy="686.1" r="3.0"/>
<circle class="s0" cx="1080.6" cy="686.1" r="3.0"/>
<circle class="s0" cx="1083.75" cy="686.1" r="3.0"/>
<circle class="s1" cx="1086.25" cy="686.1" r="3.0"/>
<circle class="s1" cx="1090" cy="686.1" r="3.0"/>
<circle class="s0" cx="1095.9" cy="686.1" r="3.0"/>
<circle class="s0" cx="1098.5" cy="686.1" r="3.0"/>
<circle class="s0" cx="1102.5" cy="686.1" r="3.0"/>
<circle class="s1" cx="1106.25" cy="686.1" r="3.0"/>
<circle class="s0" cx="1110" cy="686.1" r="3.0"/>
<circle class="s1" cx="1119.4" cy="686.1" r="3.0"/>
<circle class="s1" cx="1121.5" cy="686.1" r="3.0"/>
<circle class="s1" cx="1125.6" cy="686.1" r="3.0"/>
<circle class="s0" cx="1132.5" cy="686.1" r="3.0"/>
<circle class="s0" cx="1135" cy="686.1" r="3.0"/>
<circle class="s0" cx="1138.1" cy="686.1" r="3.0"/>
<circle class="s1" cx="1143.75" cy="686.1" r="3.0"/>
<circle class="s1" cx="1146.25" cy="686.1" r="3.0"/>
<circle class="s0" cx="1156.5" cy="686.1" r="3.0"/>
<circle class="s0" cx="1158.3" cy="686.1" r="3.0"/>
<circle class="s1" cx="1168.1" cy="686.1" r="3.0"/>
<circle class="s1" cx="1171.25" cy="686.1" r="3.0"/>
<circle class="s1" cx="1173.1" cy="686.1" r="3.0"/>
<circle class="s0" cx="1183" cy="686.1" r="3.0"/>
<circle class="s1" cx="1187.5" cy="686.1" r="3.0"/>
<circle class="s1" cx="1192" cy="686.1" r="3.0"/>
<circle class="s0" cx="1195" cy="686.1" r="3.0"/>
<circle class="s0" cx="1196.5" cy="686.1" r="3.0"/>
<circle class="s1" cx="1199.5" cy="686.1" r="3.0"/>
<circle class="s0" cx="1202.5" cy="686.1" r="3.0"/>
<circle class="s1" cx="1205.5" cy="686.1" r="3.0"/>
<text class="lab" text-anchor="middle" transform="translate(143.3 714.5) rotate(-90)">G150</text>
<text class="lab" text-anchor="middle" transform="translate(154.3 657.5) rotate(-90)">G135</text>
<text class="lab" text-anchor="middle" transform="translate(159.4 714.5) rotate(-90)">G180</text>
<text class="lab" text-anchor="middle" transform="translate(172.2 657.5) rotate(-90)">H2O2</text>
<text class="lab" text-anchor="middle" transform="translate(178.7 714.5) rotate(-90)">Paraq</text>
<text class="lab" text-anchor="middle" transform="translate(188.9 657.5) rotate(-90)">Oxctl</text>
<text class="lab" text-anchor="middle" transform="translate(197.1 714.5) rotate(-90)">LBGexp</text>
<text class="lab" text-anchor="middle" transform="translate(211 657.5) rotate(-90)">dia15</text>
<text class="lab" text-anchor="middle" transform="translate(227.5 714.5) rotate(-90)">Diami</text>
<text class="lab" text-anchor="middle" transform="translate(238.5 657.5) rotate(-90)">dia5</text>
<text class="lab" text-anchor="middle" transform="translate(255.4 714.5) rotate(-90)">C90</text>
<text class="lab" text-anchor="middle" transform="translate(268.3 657.5) rotate(-90)">C30</text>
<text class="lab" text-anchor="middle" transform="translate(282.4 714.5) rotate(-90)">Cold</text>
<text class="lab" text-anchor="middle" transform="translate(296.9 657.5) rotate(-90)">LPh</text>
<text class="lab" text-anchor="middle" transform="translate(305 714.5) rotate(-90)">HPh</text>
<text class="lab" text-anchor="middle" transform="translate(314.4 657.5) rotate(-90)">aero</text>
<text class="lab" text-anchor="middle" transform="translate(330 714.5) rotate(-90)">nit</text>
<text class="lab" text-anchor="middle" transform="translate(344.6 657.5) rotate(-90)">ferm</text>
<text class="lab" text-anchor="middle" transform="translate(360.4 714.5) rotate(-90)">GM+150</text>
<text class="lab" text-anchor="middle" transform="translate(365.8 657.5) rotate(-90)">M9−tran</text>
<text class="lab" text-anchor="middle" transform="translate(375.7 714.5) rotate(-90)">MG+150</text>
<text class="lab" text-anchor="middle" transform="translate(382.2 657.5) rotate(-90)">MG+120</text>
<text class="lab" text-anchor="middle" transform="translate(561.9 657.5) rotate(-90)">Mal</text>
<text class="lab" text-anchor="middle" transform="translate(574.4 714.5) rotate(-90)">Fru</text>
<text class="lab" text-anchor="middle" transform="translate(581.1 657.5) rotate(-90)">Glu</text>
<text class="lab" text-anchor="middle" transform="translate(590.1 714.5) rotate(-90)">SMM</text>
<text class="lab" text-anchor="middle" transform="translate(598 657.5) rotate(-90)">BMM</text>
<text class="lab" text-anchor="middle" transform="translate(609 714.5) rotate(-90)">Heat</text>
<text class="lab" text-anchor="middle" transform="translate(624.2 657.5) rotate(-90)">Etha</text>
<text class="lab" text-anchor="middle" transform="translate(639.7 714.5) rotate(-90)">Salt</text>
<text class="lab" text-anchor="middle" transform="translate(651.6 657.5) rotate(-90)">Gly</text>
<text class="lab" text-anchor="middle" transform="translate(666.9 714.5) rotate(-90)">HiTm</text>
<text class="lab" text-anchor="middle" transform="translate(686.6 657.5) rotate(-90)">HiOs</text>
<text class="lab" text-anchor="middle" transform="translate(700 714.5) rotate(-90)">S1</text>
<text class="lab" text-anchor="middle" transform="translate(712.4 657.5) rotate(-90)">S2</text>
<text class="lab" text-anchor="middle" transform="translate(729.6 714.5) rotate(-90)">S3</text>
<text class="lab" text-anchor="middle" transform="translate(741.2 657.5) rotate(-90)">S4</text>
<text class="lab" text-anchor="middle" transform="translate(751.5 714.5) rotate(-90)">S3</text>
<text class="lab" text-anchor="middle" transform="translate(760.1 657.5) rotate(-90)">S5</text>
<text class="lab" text-anchor="middle" transform="translate(770.1 714.5) rotate(-90)">S6</text>
<text class="lab" text-anchor="middle" transform="translate(789.3 657.5) rotate(-90)">S7</text>
<text class="lab" text-anchor="middle" transform="translate(796.7 714.5) rotate(-90)">S8</text>
<text class="lab" text-anchor="middle" transform="translate(816 657.5) rotate(-90)">S6</text>
<text class="lab" text-anchor="middle" transform="translate(836.9 714.5) rotate(-90)">BT</text>
<text class="lab" text-anchor="middle" transform="translate(848.4 657.5) rotate(-90)">B36</text>
<text class="lab" text-anchor="middle" transform="translate(857.4 714.5) rotate(-90)">B60</text>
<text class="lab" text-anchor="middle" transform="translate(874.6 657.5) rotate(-90)">LoTm</text>
<text class="lab" text-anchor="middle" transform="translate(884.4 714.5) rotate(-90)">Pyr</text>
<text class="lab" text-anchor="middle" transform="translate(901.7 657.5) rotate(-90)">G/S</text>
<text class="lab" text-anchor="middle" transform="translate(912.4 714.5) rotate(-90)">Glucon</text>
<text class="lab" text-anchor="middle" transform="translate(922.2 657.5) rotate(-90)">SMMPr</text>
<text class="lab" text-anchor="middle" transform="translate(932 714.5) rotate(-90)">T−5.40H</text>
<text class="lab" text-anchor="middle" transform="translate(933.3 657.5) rotate(-90)">T−4.40H</text>
<text class="lab" text-anchor="middle" transform="translate(935.8 714.5) rotate(-90)">T−3.40H</text>
<text class="lab" text-anchor="middle" transform="translate(937 657.5) rotate(-90)">T−2.40H</text>
<text class="lab" text-anchor="middle" transform="translate(938.9 714.5) rotate(-90)">T−1.40H</text>
<text class="lab" text-anchor="middle" transform="translate(940.8 657.5) rotate(-90)">T−1.10H</text>
<text class="lab" text-anchor="middle" transform="translate(943.3 714.5) rotate(-90)">T−0.40H</text>
<text class="lab" text-anchor="middle" transform="translate(945.8 657.5) rotate(-90)">T0.0H</text>
<text class="lab" text-anchor="middle" transform="translate(956.15 714.5) rotate(-90)">T0.30H</text>
<text class="lab" text-anchor="middle" transform="translate(960.8 657.5) rotate(-90)">T1.0H</text>
<text class="lab" text-anchor="middle" transform="translate(964.5 714.5) rotate(-90)">T1.30H</text>
<text class="lab" text-anchor="middle" transform="translate(967 657.5) rotate(-90)">T2.0H</text>
<text class="lab" text-anchor="middle" transform="translate(970.4 714.5) rotate(-90)">T2.30H</text>
<text class="lab" text-anchor="middle" transform="translate(973.3 657.5) rotate(-90)">T3.0H</text>
<text class="lab" text-anchor="middle" transform="translate(973.9 714.5) rotate(-90)">T3.30H</text>
<text class="lab" text-anchor="middle" transform="translate(978.3 657.5) rotate(-90)">T4.0H</text>
<text class="lab" text-anchor="middle" transform="translate(981.4 714.5) rotate(-90)">T5.0H</text>
<text class="lab" text-anchor="middle" transform="translate(990.4 657.5) rotate(-90)">M9−stat</text>
<text class="lab" text-anchor="middle" transform="translate(1010 714.5) rotate(-90)">BC</text>
<text class="lab" text-anchor="middle" transform="translate(1026.9 657.5) rotate(-90)">Sw</text>
<text class="lab" text-anchor="middle" transform="translate(1043.4 714.5) rotate(-90)">LPhT</text>
<text class="lab" text-anchor="middle" transform="translate(1061 657.5) rotate(-90)">LBGstat</text>
<text class="lab" text-anchor="middle" transform="translate(1076.9 714.5) rotate(-90)">LBGtran</text>
<text class="lab" text-anchor="middle" transform="translate(1085.4 657.5) rotate(-90)">M0t45</text>
<text class="lab" text-anchor="middle" transform="translate(1091 714.5) rotate(-90)">M40t45</text>
<text class="lab" text-anchor="middle" transform="translate(1100.4 657.5) rotate(-90)">Lbtran</text>
<text class="lab" text-anchor="middle" transform="translate(1110.4 714.5) rotate(-90)">Mt0</text>
<text class="lab" text-anchor="middle" transform="translate(1114.4 657.5) rotate(-90)">M40t45</text>
<text class="lab" text-anchor="middle" transform="translate(1122.9 714.5) rotate(-90)">M40t90</text>
<text class="lab" text-anchor="middle" transform="translate(1136.6 657.5) rotate(-90)">M0t90</text>
<text class="lab" text-anchor="middle" transform="translate(1147.8 714.5) rotate(-90)">Lbstat</text>
<text class="lab" text-anchor="middle" transform="translate(1161.4 657.5) rotate(-90)">BI</text>
<text class="lab" text-anchor="middle" transform="translate(1171.7 714.5) rotate(-90)">S0</text>
<text class="lab" text-anchor="middle" transform="translate(1187.6 657.5) rotate(-90)">M0t45</text>
<text class="lab" text-anchor="middle" transform="translate(1189.4 714.5) rotate(-90)">dia0</text>
<text class="lab" text-anchor="middle" transform="translate(1198.9 657.5) rotate(-90)">Lbexp</text>
<text class="lab" text-anchor="middle" transform="translate(1202.4 714.5) rotate(-90)">M9</text>
<text class="lab" text-anchor="middle" transform="translate(1204.4 657.5) rotate(-90)">Lbexp</text>
<text class="lab" text-anchor="middle" transform="translate(1209.2 714.5) rotate(-90)">Mt0</text>
<text class="lab" text-anchor="middle" transform="translate(392.15 714.5) rotate(-90)">MG+90</text>
<text class="lab" text-anchor="middle" transform="translate(397.4 714.5) rotate(-90)">MG+90</text>
<text class="lab" text-anchor="middle" transform="translate(402.65 714.5) rotate(-90)">MG+45</text>
<text class="lab" text-anchor="middle" transform="translate(407.9 714.5) rotate(-90)">MG+45</text>
<text class="lab" text-anchor="middle" transform="translate(413.15 714.5) rotate(-90)">MG+25</text>
<text class="lab" text-anchor="middle" transform="translate(418.4 714.5) rotate(-90)">MG+25</text>
<text class="lab" text-anchor="middle" transform="translate(423.65 714.5) rotate(-90)">MG+10</text>
<text class="lab" text-anchor="middle" transform="translate(428.9 714.5) rotate(-90)">MG+10</text>
<text class="lab" text-anchor="middle" transform="translate(432.65 714.5) rotate(-90)">MG+t5</text>
<text class="lab" text-anchor="middle" transform="translate(437.4 714.5) rotate(-90)">MG−0.1</text>
<text class="lab" text-anchor="middle" transform="translate(441.9 714.5) rotate(-90)">MG−0.1</text>
<text class="lab" text-anchor="middle" transform="translate(447.9 714.5) rotate(-90)">LBk</text>
<text class="lab" text-anchor="middle" transform="translate(456.4 714.5) rotate(-90)">Glucon</text>
<text class="lab" text-anchor="middle" transform="translate(465.4 714.5) rotate(-90)">GM−0.1</text>
<text class="lab" text-anchor="middle" transform="translate(471.4 714.5) rotate(-90)">GM−0.1</text>
<text class="lab" text-anchor="middle" transform="translate(478.9 714.5) rotate(-90)">GM+10</text>
<text class="lab" text-anchor="middle" transform="translate(482.65 714.5) rotate(-90)">GM+10</text>
<text class="lab" text-anchor="middle" transform="translate(486.4 714.5) rotate(-90)">GM+25</text>
<text class="lab" text-anchor="middle" transform="translate(490.15 714.5) rotate(-90)">GM+25</text>
<text class="lab" text-anchor="middle" transform="translate(493.9 714.5) rotate(-90)">GM+60</text>
<text class="lab" text-anchor="middle" transform="translate(497.65 714.5) rotate(-90)">GM+60</text>
<text class="lab" text-anchor="middle" transform="translate(504.2 714.5) rotate(-90)">GM+120</text>
<text class="lab" text-anchor="middle" transform="translate(509.8 714.5) rotate(-90)">GM+120</text>
<text class="lab" text-anchor="middle" transform="translate(520.15 714.5) rotate(-90)">GM+90</text>
<text class="lab" text-anchor="middle" transform="translate(524.8 714.5) rotate(-90)">GM+90</text>
<text class="lab" text-anchor="middle" transform="translate(529.5 714.5) rotate(-90)">GM+45</text>
<text class="lab" text-anchor="middle" transform="translate(534.2 714.5) rotate(-90)">GM+5</text>
<text class="lab" text-anchor="middle" transform="translate(391.9 657.5) rotate(-90)">MG+60</text>
<text class="lab" text-anchor="middle" transform="translate(395.6 657.5) rotate(-90)">MG+60</text>
<text class="lab" text-anchor="middle" transform="translate(399.4 657.5) rotate(-90)">MG+60</text>
<text class="lab" text-anchor="middle" transform="translate(403.9 657.5) rotate(-90)">MG+25</text>
<text class="lab" text-anchor="middle" transform="translate(408.4 657.5) rotate(-90)">MG+15</text>
<text class="lab" text-anchor="middle" transform="translate(412.9 657.5) rotate(-90)">MG+15</text>
<text class="lab" text-anchor="middle" transform="translate(417.4 657.5) rotate(-90)">MG+5</text>
<text class="lab" text-anchor="middle" transform="translate(421.9 657.5) rotate(-90)">MG+5</text>
<text class="lab" text-anchor="middle" transform="translate(426.4 657.5) rotate(-90)">MG+t5</text>
<text class="lab" text-anchor="middle" transform="translate(430.4 657.5) rotate(-90)">MG+t5</text>
<text class="lab" text-anchor="middle" transform="translate(434.4 657.5) rotate(-90)">MG+5</text>
<text class="lab" text-anchor="middle" transform="translate(440.9 657.5) rotate(-90)">MG−0.2</text>
<text class="lab" text-anchor="middle" transform="translate(445.8 657.5) rotate(-90)">MG−0.2</text>
<text class="lab" text-anchor="middle" transform="translate(452.1 657.5) rotate(-90)">Fru</text>
<text class="lab" text-anchor="middle" transform="translate(464.4 657.5) rotate(-90)">GM−0.2</text>
<text class="lab" text-anchor="middle" transform="translate(468.4 657.5) rotate(-90)">GM−0.2</text>
<text class="lab" text-anchor="middle" transform="translate(477 657.5) rotate(-90)">GM+5</text>
<text class="lab" text-anchor="middle" transform="translate(481.2 657.5) rotate(-90)">GM+5</text>
<text class="lab" text-anchor="middle" transform="translate(485.4 657.5) rotate(-90)">GM+15</text>
<text class="lab" text-anchor="middle" transform="translate(489.6 657.5) rotate(-90)">GM+15</text>
<text class="lab" text-anchor="middle" transform="translate(493.9 657.5) rotate(-90)">GM+45</text>
<text class="lab" text-anchor="middle" transform="translate(498.1 657.5) rotate(-90)">GM+45</text>
<text class="lab" text-anchor="middle" transform="translate(502.4 657.5) rotate(-90)">GM+45</text>
<text class="lab" text-anchor="middle" transform="translate(514 657.5) rotate(-90)">GM+150</text>
<text class="lab" text-anchor="middle" transform="translate(522.9 657.5) rotate(-90)">GM+60</text>
<text class="lab" text-anchor="middle" transform="translate(527.6 657.5) rotate(-90)">GM+90</text>
<text class="lab" text-anchor="middle" transform="translate(532.4 657.5) rotate(-90)">GM+90</text>
<text class="lab" text-anchor="middle" transform="translate(538 657.5) rotate(-90)">M9−exp</text>
<text class="lab" text-anchor="middle" transform="translate(547.9 714.5) rotate(-90)">M/G</text>
</svg></body></html>
